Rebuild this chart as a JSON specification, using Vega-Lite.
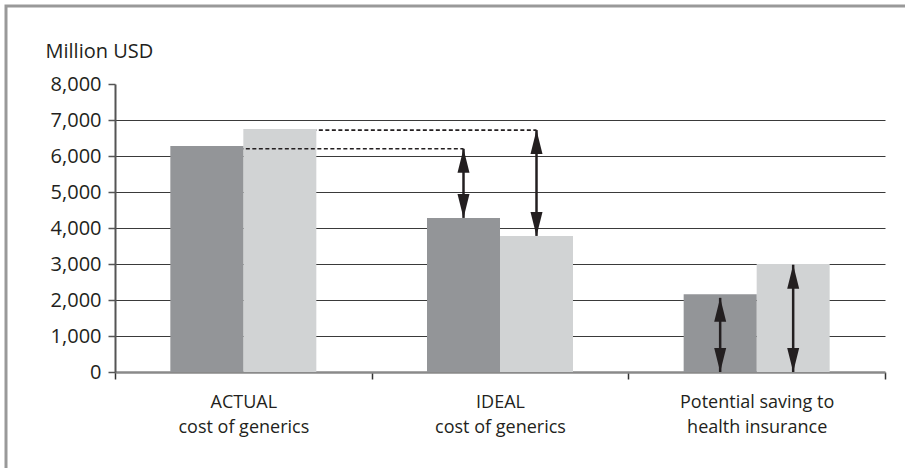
{
  "$schema": "https://vega.github.io/schema/vega-lite/v6.json",
  "width": 899,
  "height": 462,
  "autosize": {"type": "none"},
  "padding": {"left": 6, "top": 6, "right": 0, "bottom": 0},
  "background": "white",
  "config": {
    "font": "Open Sans",
    "view": {"stroke": "#999999", "strokeWidth": 3, "strokeDash": [899, 1361, 462]}
  },
  "datasets": {
    "bars": [
      {"cat": "ACTUAL|cost of generics", "series": "dark", "v": 6280},
      {"cat": "ACTUAL|cost of generics", "series": "light", "v": 6750},
      {"cat": "IDEAL|cost of generics", "series": "dark", "v": 4280},
      {"cat": "IDEAL|cost of generics", "series": "light", "v": 3780},
      {"cat": "Potential saving to|health insurance", "series": "dark", "v": 2160},
      {"cat": "Potential saving to|health insurance", "series": "light", "v": 3000}
    ],
    "guides": [
      {"cat": "ACTUAL|cost of generics", "series": "light", "v": 6720, "line": "upper"},
      {"cat": "IDEAL|cost of generics", "series": "light", "v": 6720, "line": "upper"},
      {"cat": "ACTUAL|cost of generics", "series": "dark", "v": 6200, "line": "lower"},
      {"cat": "IDEAL|cost of generics", "series": "dark", "v": 6200, "line": "lower"}
    ],
    "arrows": [
      {"cat": "IDEAL|cost of generics", "series": "dark", "top": 6200, "bottom": 4280},
      {"cat": "IDEAL|cost of generics", "series": "light", "top": 6720, "bottom": 3780},
      {"cat": "Potential saving to|health insurance", "series": "dark", "top": 2060, "bottom": 0},
      {"cat": "Potential saving to|health insurance", "series": "light", "top": 2980, "bottom": 0}
    ]
  },
  "encoding": {
    "x": {
      "field": "cat",
      "type": "nominal",
      "scale": {
        "domain": ["ACTUAL|cost of generics", "IDEAL|cost of generics", "Potential saving to|health insurance"],
        "range": [109, 879],
        "paddingInner": 0,
        "paddingOuter": 0
      },
      "axis": {
        "orient": "bottom",
        "offset": -96,
        "title": null,
        "labelAngle": 0,
        "labelExpr": "split(datum.label, '|')",
        "labelFont": "Open Sans",
        "labelFontSize": 18,
        "labelColor": "#231f20",
        "labelPadding": 14,
        "labelBaseline": "top",
        "labelLineHeight": 25,
        "labelLimit": 300,
        "domainColor": "#8a8a8a",
        "domainWidth": 2.5,
        "tickBand": "extent",
        "tickSize": 7,
        "tickColor": "#333333",
        "tickWidth": 1.5
      }
    },
    "xOffset": {
      "field": "series",
      "type": "nominal",
      "scale": {"domain": ["dark", "light"], "paddingInner": 0, "paddingOuter": 0.758}
    },
    "y": {
      "field": "v",
      "type": "quantitative",
      "scale": {"domain": [0, 8000], "range": [366, 78], "nice": false, "zero": true},
      "axis": {
        "orient": "left",
        "offset": -109,
        "values": [0, 1000, 2000, 3000, 4000, 5000, 6000, 7000, 8000],
        "format": ",d",
        "title": "Million USD",
        "titleAngle": 0,
        "titleX": -70,
        "titleY": 51,
        "titleAlign": "left",
        "titleBaseline": "alphabetic",
        "titleFont": "Open Sans",
        "titleFontSize": 20,
        "titleFontWeight": "normal",
        "titleColor": "#231f20",
        "labelFont": "Open Sans",
        "labelFontSize": 20,
        "labelColor": "#231f20",
        "labelPadding": 7,
        "domainColor": "#555555",
        "domainWidth": 2,
        "tickSize": 7,
        "tickColor": "#555555",
        "tickWidth": 1.5,
        "grid": true,
        "gridColor": "#3a3a3a",
        "gridWidth": 1.2,
        "gridOpacity": {"condition": {"test": "datum.value === 0 || datum.value === 8000", "value": 0}, "value": 1}
      }
    }
  },
  "layer": [
    {
      "data": {"name": "guides"},
      "transform": [{"filter": "datum.line === 'upper'"}],
      "mark": {"type": "line", "color": "#231f20", "strokeWidth": 1.6, "strokeDash": [4, 2.5]}
    },
    {
      "data": {"name": "bars"},
      "transform": [{"filter": "datum.series === 'light'"}],
      "mark": {"type": "bar", "color": "#d1d3d4"}
    },
    {
      "data": {"name": "guides"},
      "transform": [{"filter": "datum.line === 'lower'"}],
      "mark": {"type": "line", "color": "#231f20", "strokeWidth": 1.6, "strokeDash": [4, 2.5]}
    },
    {
      "data": {"name": "bars"},
      "transform": [{"filter": "datum.series === 'dark'"}],
      "mark": {"type": "bar", "color": "#939598"}
    },
    {
      "data": {"name": "arrows"},
      "mark": {"type": "rule", "color": "#231f20", "strokeWidth": 2.5},
      "encoding": {
        "y": {"field": "top", "type": "quantitative"},
        "y2": {"field": "bottom"}
      }
    },
    {
      "data": {"name": "arrows"},
      "mark": {"type": "point", "shape": "M0,0 L1,4 L-1,4 Z", "size": 144, "filled": true, "color": "#231f20", "opacity": 1, "strokeWidth": 0},
      "encoding": {"y": {"field": "top", "type": "quantitative"}}
    },
    {
      "data": {"name": "arrows"},
      "mark": {"type": "point", "shape": "M0,0 L1,-4 L-1,-4 Z", "size": 144, "filled": true, "color": "#231f20", "opacity": 1, "strokeWidth": 0},
      "encoding": {"y": {"field": "bottom", "type": "quantitative"}}
    }
  ]
}
